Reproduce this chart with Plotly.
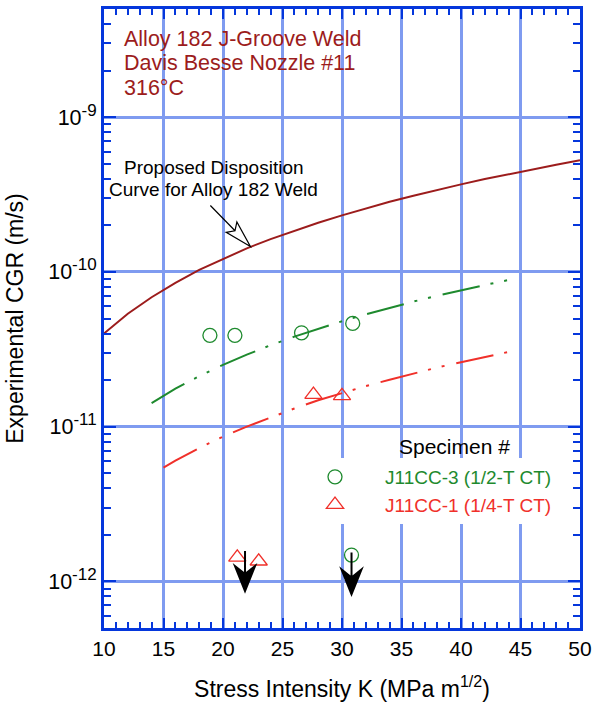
import numpy as np
import plotly.graph_objects as go

# ---------------- data ----------------
disp_K = [10, 12, 14, 16, 18, 20, 22, 24, 26, 28, 30, 32, 34, 36, 38, 40, 42, 44, 46, 48, 50]
disp_cgr = [4.0e-11, 5.37e-11, 6.86e-11, 8.5e-11, 1.03e-10, 1.21e-10, 1.42e-10, 1.63e-10,
            1.85e-10, 2.08e-10, 2.32e-10, 2.58e-10, 2.84e-10, 3.11e-10, 3.39e-10, 3.68e-10,
            3.98e-10, 4.29e-10, 4.61e-10, 4.93e-10, 5.26e-10]

fit3_K = [14, 16, 18, 20, 22, 24, 26, 28, 30, 32, 34, 36, 38, 40, 42, 44.5]
fit3_cgr = [1.42e-11, 1.76e-11, 2.12e-11, 2.51e-11, 2.92e-11, 3.36e-11, 3.82e-11, 4.30e-11,
            4.80e-11, 5.32e-11, 5.87e-11, 6.43e-11, 7.01e-11, 7.61e-11, 8.23e-11, 9.03e-11]

fit1_K = [15, 16, 18, 20, 22, 24, 26, 28, 30, 32, 34, 36, 38, 40, 42, 44.5]
fit1_cgr = [5.44e-12, 6.03e-12, 7.28e-12, 8.62e-12, 1.00e-11, 1.15e-11, 1.31e-11, 1.48e-11,
            1.65e-11, 1.83e-11, 2.01e-11, 2.21e-11, 2.41e-11, 2.61e-11, 2.83e-11, 3.10e-11]

j3_K = [18.9, 21.0, 26.6, 30.9, 30.8]
j3_cgr = [3.89e-11, 3.89e-11, 4.04e-11, 4.65e-11, 1.48e-12]

j1_K = [27.6, 30.0, 21.2, 23.0]
j1_cgr = [1.61e-11, 1.58e-11, 1.43e-12, 1.35e-12]

# "less than" arrows (tips)
arrow_K = [21.85, 30.8]
arrow_tip = [8.66e-13, 8.24e-13]

# pointer of the disposition-curve label (tip)
pointer_K = 22.3
pointer_cgr = 1.46e-10

x_ticks = [10, 15, 20, 25, 30, 35, 40, 45, 50]
y_ticks = [1e-12, 1e-11, 1e-10, 1e-9]
y_exponents = ["-12", "-11", "-10", "-9"]

# ---------------- styles ----------------
BLUE = "#0537dc"
GRID = "#7f9bf0"
DARKRED = "#9c1c1c"
GREEN = "#1e8a2e"
RED = "#f0302a"
FONT = "Liberation Sans, Arial, sans-serif"
DASH = "38px,11px,3px,11px,3px,12px"

y_ticktext = [f"10<sup><span style='font-size:17px'>{e}</span></sup>" for e in y_exponents]

fig = go.Figure()

fig.add_trace(go.Scatter(x=disp_K, y=disp_cgr, mode="lines",
                         line=dict(color=DARKRED, width=2), showlegend=False))
fig.add_trace(go.Scatter(x=fit3_K, y=fit3_cgr, mode="lines",
                         line=dict(color=GREEN, width=2, dash=DASH), showlegend=False))
fig.add_trace(go.Scatter(x=fit1_K, y=fit1_cgr, mode="lines",
                         line=dict(color=RED, width=2, dash=DASH), showlegend=False))
fig.add_trace(go.Scatter(x=j3_K, y=j3_cgr, mode="markers",
                         name=f"<span style='color:{GREEN}'>J11CC-3 (1/2-T CT)</span>",
                         marker=dict(symbol="circle-open", size=14, color=GREEN,
                                     line=dict(width=1.3, color=GREEN))))
fig.add_trace(go.Scatter(x=j1_K, y=j1_cgr, mode="markers",
                         name=f"<span style='color:{RED}'>J11CC-1 (1/4-T CT)</span>",
                         marker=dict(symbol="triangle-up-open", size=15, color=RED,
                                     line=dict(width=1.3, color=RED))))

# ---------------- geometry helpers (pixel arrows) ----------------
def arrow_path(ux, uy, length, head_len, half_w, notch):
    """Arrow with tip at (0,0); (ux,uy) unit vector from tip toward tail (y up)."""
    px, py = -uy, ux
    tail = (ux * length, uy * length)
    back = (ux * head_len, uy * head_len)
    n = (ux * (head_len - notch), uy * (head_len - notch))
    c1 = (back[0] + px * half_w, back[1] + py * half_w)
    c2 = (back[0] - px * half_w, back[1] - py * half_w)
    f = lambda p: f"{p[0]:.2f},{p[1]:.2f}"
    return f"M{f(tail)} L{f(n)} M0,0 L{f(c1)} L{f(n)} L{f(c2)} Z"

def py2paper(py):
    return 1 - (py - 9) / 619

def px2paper(px):
    return (px - 104) / 476

shapes = []
# white backgrounds behind text blocks (hide grid only)
for (x0, x1, y0, y1) in [(110, 372, 25, 103), (108, 330, 150, 199), (300, 575, 430, 462)]:
    shapes.append(dict(type="rect", xref="paper", yref="paper", layer="between",
                       x0=px2paper(x0), x1=px2paper(x1), y0=py2paper(y1), y1=py2paper(y0),
                       fillcolor="white", line=dict(width=0)))

for k, v, L in zip(arrow_K, arrow_tip, [40, 42]):
    shapes.append(dict(type="path", xref="x", yref="y", xsizemode="pixel", ysizemode="pixel",
                       xanchor=k, yanchor=v, path=arrow_path(0, 1, L, 25, 10, 8),
                       fillcolor="black", line=dict(color="black", width=2)))

vx, vy = -40.0, 41.0
vl = (vx ** 2 + vy ** 2) ** 0.5
shapes.append(dict(type="path", xref="x", yref="y", xsizemode="pixel", ysizemode="pixel",
                   xanchor=pointer_K, yanchor=pointer_cgr,
                   path=arrow_path(vx / vl, vy / vl, vl, 27, 7.5, 5),
                   fillcolor="white", line=dict(color="black", width=1.2)))

# ---------------- annotations ----------------
ann = []
for txt, ymid in [("Alloy 182 J-Groove Weld", 39.2), ("Davis Besse Nozzle #11", 63.2), ("316°C", 88.2)]:
    ann.append(dict(text=txt, xref="paper", yref="paper", x=px2paper(122.5), y=py2paper(ymid),
                    xanchor="left", yanchor="middle", showarrow=False,
                    font=dict(size=21.5, color=DARKRED, family=FONT), borderpad=0))
for txt, ymid in [("Proposed Disposition", 167.2), ("Curve for Alloy 182 Weld", 189.2)]:
    ann.append(dict(text=txt, xref="paper", yref="paper", x=px2paper(213.5), y=py2paper(ymid),
                    xanchor="center", yanchor="middle", showarrow=False,
                    font=dict(size=19, color="black", family=FONT), borderpad=0))
ann.append(dict(text="Specimen #", xref="paper", yref="paper", x=px2paper(454), y=py2paper(446.3),
                xanchor="center", yanchor="middle", showarrow=False,
                font=dict(size=21, color="black", family=FONT), borderpad=0))

y_minor = [m * 10.0 ** e for e in range(-13, -8) for m in range(2, 10)
           if 5e-13 <= m * 10.0 ** e <= 5e-9]

fig.update_layout(
    width=595, height=706,
    margin=dict(l=104, r=15, t=9, b=78, autoexpand=False),
    paper_bgcolor="white", plot_bgcolor="white",
    font=dict(family=FONT, color="black"),
    shapes=shapes, annotations=ann,
    showlegend=True,
    legend=dict(x=px2paper(285), y=py2paper(458), xanchor="left", yanchor="top",
                bgcolor="white", borderwidth=0, itemwidth=90,
                font=dict(size=19, family=FONT), tracegroupgap=0),
    xaxis=dict(range=[10, 50], tickvals=x_ticks, ticks="inside", ticklen=10, tickwidth=2,
               tickcolor=BLUE, showline=True, linewidth=3, linecolor=BLUE, mirror="ticks",
               showgrid=True, gridcolor=GRID, gridwidth=3, zeroline=False,
               tickfont=dict(size=21, color="black", family=FONT),
               minor=dict(dtick=1, tick0=10, ticks="inside", ticklen=6, tickwidth=2,
                          tickcolor=BLUE, showgrid=False),
               title=dict(text="Stress Intensity K (MPa m<sup>1/2</sup>)", standoff=22,
                          font=dict(size=23, color="black", family=FONT))),
    yaxis=dict(type="log", range=[np.log10(5e-13), np.log10(5e-9)],
               tickvals=y_ticks, ticktext=y_ticktext,
               ticks="inside", ticklen=12, tickwidth=2,
               tickcolor=BLUE, showline=True, linewidth=3, linecolor=BLUE, mirror="ticks",
               showgrid=True, gridcolor=GRID, gridwidth=3, zeroline=False,
               tickfont=dict(size=21.5, color="black", family=FONT),
               minor=dict(tickvals=y_minor, ticks="inside", ticklen=7, tickwidth=2,
                          tickcolor=BLUE, showgrid=False),
               title=dict(text="Experimental CGR (m/s)", standoff=19,
                          font=dict(size=23, color="black", family=FONT))),
)

fig.write_html("out.html", config={"displayModeBar": False},
               post_script="document.body.style.margin='0';document.body.style.padding='0';")
